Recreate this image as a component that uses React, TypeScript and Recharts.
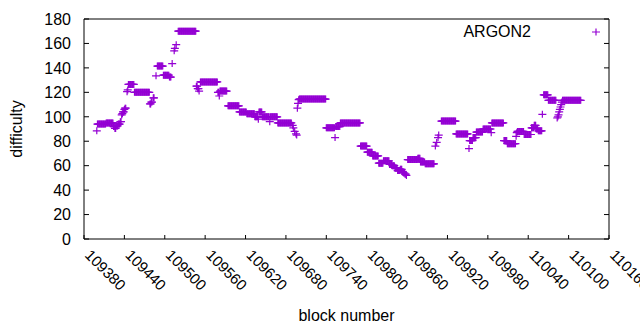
import React from 'react';
import { ScatterChart, Scatter, XAxis, YAxis, Legend } from 'recharts';

const runFirst = [
  109399, 109400, 109413, 109424, 109426, 109428, 109431, 109434,
  109436, 109437, 109438, 109440, 109441, 109444, 109445, 109446,
  109455, 109478, 109480, 109483, 109487, 109489, 109498, 109507,
  109511, 109514, 109515, 109517, 109520, 109547, 109549, 109551,
  109553, 109579, 109581, 109582, 109594, 109611, 109622, 109634,
  109639, 109640, 109645, 109656, 109657, 109668, 109690, 109691,
  109693, 109695, 109696, 109697, 109698, 109699, 109700, 109740,
  109753, 109754, 109761, 109791, 109801, 109809, 109818, 109825,
  109834, 109838, 109842, 109846, 109850, 109853, 109855, 109857,
  109859, 109861, 109876, 109880, 109887, 109902, 109904, 109906,
  109907, 109911, 109933, 109952, 109953, 109958, 109963, 109973,
  109985, 109986, 110004, 110009, 110022, 110023, 110024, 110034,
  110045, 110049, 110052, 110055, 110061, 110063, 110070, 110083,
  110084, 110085, 110086, 110087, 110088, 110089, 110090, 110091,
];
const runLast = [
  109399, 109412, 109423, 109425, 109427, 109430, 109433, 109435,
  109436, 109437, 109439, 109440, 109442, 109444, 109445, 109454,
  109477, 109479, 109481, 109484, 109487, 109497, 109506, 109509,
  109511, 109514, 109515, 109517, 109546, 109548, 109550, 109551,
  109578, 109580, 109581, 109592, 109610, 109621, 109633, 109638,
  109639, 109644, 109655, 109656, 109667, 109688, 109690, 109691,
  109693, 109695, 109696, 109697, 109698, 109699, 109739, 109752,
  109753, 109760, 109790, 109800, 109808, 109817, 109824, 109833,
  109837, 109841, 109845, 109849, 109852, 109854, 109856, 109858,
  109859, 109875, 109879, 109886, 109900, 109902, 109904, 109906,
  109907, 109932, 109950, 109952, 109957, 109962, 109972, 109984,
  109985, 110003, 110008, 110021, 110022, 110023, 110033, 110044,
  110048, 110051, 110054, 110060, 110061, 110069, 110081, 110083,
  110084, 110085, 110086, 110087, 110088, 110089, 110090, 110118,
];
const runDifficulty = [
  88.5, 94, 95, 92, 90.5, 92.5, 94, 96,
  101.5, 102.5, 104, 106, 107, 120.5, 122, 126.5,
  120, 110.5, 112, 115.5, 133.5, 141.5, 134, 132.5,
  143.5, 154, 156, 159, 170, 125, 123, 121,
  128.5, 120, 117, 121, 109, 104, 102.5, 100,
  98, 104, 100, 96, 100, 95, 93, 91,
  88, 86, 85, 107, 111, 114, 114.5, 91,
  83, 92, 95, 76, 71, 68, 62, 64,
  61, 60, 58, 56, 57, 55, 54, 53,
  52, 65, 66, 63, 61.5, 76, 79, 83,
  85, 96.5, 86, 74, 80.5, 83, 87.5, 90,
  87, 95, 80.5, 78, 84, 87, 88, 85.5,
  91, 93, 90, 88.5, 102, 118, 113.5, 99,
  100, 101.5, 104, 106, 108, 110, 112, 113.5,
];

const xTicks = [109380, 109440, 109500, 109560, 109620, 109680, 109740, 109800, 109860, 109920, 109980, 110040, 110100, 110160];
const yTicks = [0, 20, 40, 60, 80, 100, 120, 140, 160, 180];

const points: { block: number; difficulty: number }[] = [];
runFirst.forEach((first, i) => {
  for (let b = first; b <= runLast[i]; b++) points.push({ block: b, difficulty: runDifficulty[i] });
});

const FONT = '"Liberation Sans", Arial, sans-serif';
const FS = 16;
const PURPLE = '#9400d3';
const LEFT = 84, RIGHT = 609, TOP = 19, BOTTOM = 239;

const Plus = (p: any) => (
  <path d={`M${p.cx - 4},${p.cy}H${p.cx + 4}M${p.cx},${p.cy - 3.5}V${p.cy + 3.5}`} stroke={PURPLE} strokeWidth={1.2} fill="none" />
);

const BottomTick = (p: any) => (
  <g>
    <line x1={p.x} x2={p.x} y1={BOTTOM} y2={BOTTOM - 4} stroke="#000" />
    <text x={p.x} y={256} transform={`rotate(45 ${p.x} 256)`} fontFamily={FONT} fontSize={15} fill="#000">{p.payload.value}</text>
  </g>
);
const TopTick = (p: any) => <line x1={p.x} x2={p.x} y1={TOP} y2={TOP + 4} stroke="#000" />;
const LeftTick = (p: any) => (
  <g>
    <line x1={LEFT} x2={LEFT + 5} y1={p.y} y2={p.y} stroke="#000" />
    <text x={71} y={p.y} dy="0.36em" textAnchor="end" fontFamily={FONT} fontSize={FS} fill="#000">{p.payload.value}</text>
  </g>
);
const RightTick = (p: any) => <line x1={RIGHT} x2={RIGHT - 5} y1={p.y} y2={p.y} stroke="#000" />;

const KeyBox = () => (
  <div style={{ display: 'flex', alignItems: 'center', fontFamily: FONT, fontSize: FS, color: '#000' }}>
    <span style={{ width: 91, textAlign: 'right' }}>ARGON2</span>
    <svg width={79} height={20}>
      <path d="M61,10H69M65,6.5V13.5" stroke={PURPLE} strokeWidth={1.2} fill="none" />
    </svg>
  </div>
);

export default function App() {
  return (
    <div style={{ position: 'absolute', left: 0, top: 0, background: '#fff' }}>
      <ScatterChart width={640} height={330} margin={{ top: 0, right: 0, bottom: 0, left: 0 }}>
        <XAxis
          dataKey="block" type="number" domain={[109380, 110160]} ticks={xTicks} allowDataOverflow
          height={91} axisLine={{ stroke: '#000' }} tickLine={false} tick={<BottomTick />} interval={0}
          label={{ value: 'block number', position: 'insideBottom', offset: 9, fill: '#000', fontSize: FS, fontFamily: FONT }}
        />
        <XAxis
          xAxisId="top" orientation="top" type="number" domain={[109380, 110160]} ticks={xTicks} allowDataOverflow
          height={TOP} axisLine={{ stroke: '#000' }} tickLine={false} tick={<TopTick />} interval={0}
        />
        <YAxis
          dataKey="difficulty" type="number" domain={[0, 180]} ticks={yTicks} allowDataOverflow
          width={LEFT} axisLine={{ stroke: '#000' }} tickLine={false} tick={<LeftTick />} interval={0}
          label={() => (
            <text x={16} y={129} transform="rotate(-90 16 129)" textAnchor="middle" dominantBaseline="central" fontFamily={FONT} fontSize={FS} fill="#000">difficulty</text>
          )}
        />
        <YAxis
          yAxisId="right" orientation="right" type="number" domain={[0, 180]} ticks={yTicks} allowDataOverflow
          width={640 - RIGHT} axisLine={{ stroke: '#000' }} tickLine={false} tick={<RightTick />} interval={0}
        />
        <Legend layout="vertical" align="center" verticalAlign="middle" content={<KeyBox />}
          wrapperStyle={{ left: 440, top: 22, width: 170, height: 20 }} />
        <Scatter name="ARGON2" data={points} shape={<Plus />} isAnimationActive={false} />
      </ScatterChart>
    </div>
  );
}
